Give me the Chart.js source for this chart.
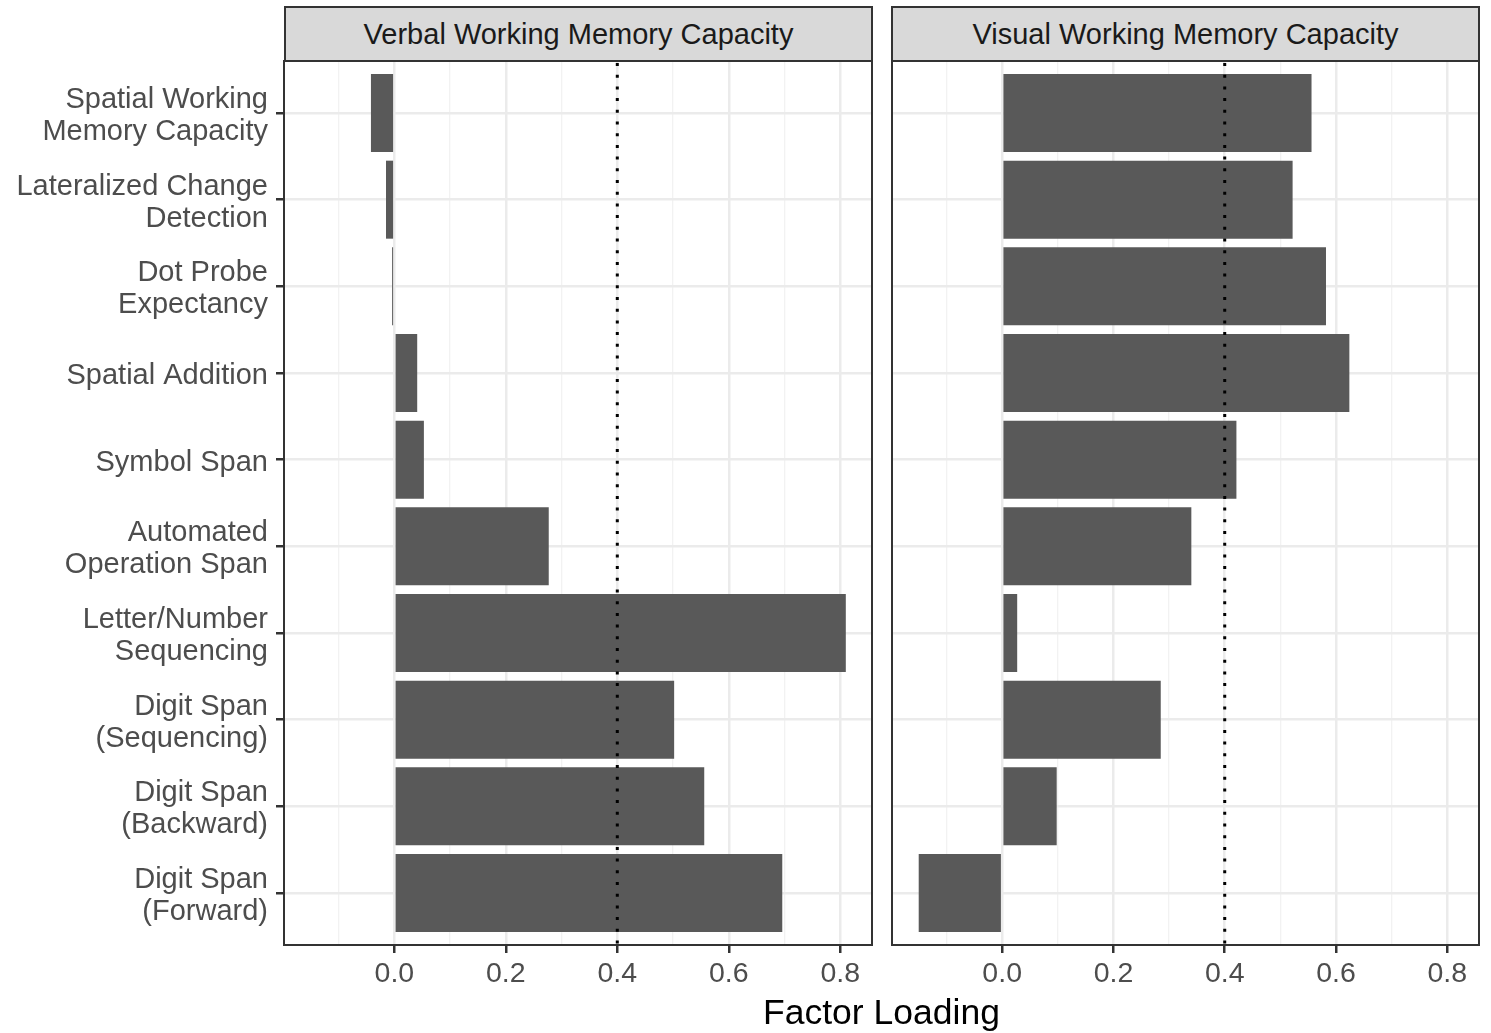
<!DOCTYPE html>
<html lang="en">
<head>
  <meta charset="UTF-8">
  <title>Factor Loadings</title>
  <script src="https://cdn.jsdelivr.net/npm/chart.js"></script>
  <style>
    body {
      margin: 0;
      background: #ffffff;
      font-family: "Liberation Sans", Arial, sans-serif;
    }
    #wrap {
      position: relative;
      width: 1491px;
      height: 1033px;
    }
    canvas {
      position: absolute;
      top: 0;
    }
    .strip {
      position: absolute;
      top: 6px;
      height: 56px;
      box-sizing: border-box;
      background: #D9D9D9;
      border: 2px solid #333333;
      color: #1A1A1A;
      font-size: 29px;
      line-height: 52px;
      text-align: center;
      white-space: nowrap;
    }
    #xtitle {
      position: absolute;
      left: 284px;
      width: 1195px;
      top: 992px;
      text-align: center;
      font-size: 35.5px;
      color: #000000;
    }
  </style>
</head>
<body>
  <div id="wrap">
    <canvas id="leftChart" width="880" height="1033" style="left:0"></canvas>
    <canvas id="rightChart" width="611" height="1033" style="left:880px"></canvas>
    <div class="strip" id="leftStrip" style="left:284px; width:589px"></div>
    <div class="strip" id="rightStrip" style="left:891px; width:589px"></div>
    <div id="xtitle"></div>
  </div>

  <script>
    // panel titles and axis title
    const panelTitles = ['Verbal Working Memory Capacity', 'Visual Working Memory Capacity'];
    const axisTitle = 'Factor Loading';

    // tasks, top to bottom
    const tasks = [
      ['Spatial Working', 'Memory Capacity'],
      ['Lateralized Change', 'Detection'],
      ['Dot Probe', 'Expectancy'],
      ['Spatial Addition'],
      ['Symbol Span'],
      ['Automated', 'Operation Span'],
      ['Letter/Number', 'Sequencing'],
      ['Digit Span', '(Sequencing)'],
      ['Digit Span', '(Backward)'],
      ['Digit Span', '(Forward)']
    ];

    const verbalLoadings = [-0.042, -0.015, -0.004, 0.041, 0.053, 0.277, 0.810, 0.502, 0.556, 0.696];
    const visualLoadings = [0.556, 0.522, 0.582, 0.624, 0.421, 0.340, 0.027, 0.285, 0.098, -0.150];

    const xTicks = [-0.1, 0, 0.1, 0.2, 0.3, 0.4, 0.5, 0.6, 0.7, 0.8];
    const cutoff = 0.4;

    document.getElementById('leftStrip').textContent = panelTitles[0];
    document.getElementById('rightStrip').textContent = panelTitles[1];
    document.getElementById('xtitle').textContent = axisTitle;

    Chart.defaults.font.family = '"Liberation Sans", Arial, sans-serif';

    const isMajor = v => Math.abs(Math.round(v * 10)) % 2 === 0;

    const cutoffLine = {
      id: 'cutoffLine',
      afterDatasetsDraw(chart) {
        const c = chart.ctx, a = chart.chartArea;
        const x = chart.scales.x.getPixelForValue(cutoff);
        c.save();
        c.strokeStyle = '#000000';
        c.lineWidth = 3;
        c.setLineDash([3, 8.7]);
        c.beginPath();
        c.moveTo(x, a.top + 2);
        c.lineTo(x, a.bottom);
        c.stroke();
        c.restore();
      }
    };

    const panelBorder = {
      id: 'panelBorder',
      afterDraw(chart) {
        const c = chart.ctx, a = chart.chartArea;
        c.save();
        c.strokeStyle = '#333333';
        c.lineWidth = 2;
        c.strokeRect(a.left, a.top, a.right - a.left, a.bottom - a.top);
        c.restore();
      }
    };

    function makeChart(id, values, showLabels) {
      const ctx = document.getElementById(id).getContext('2d');
      return new Chart(ctx, {
        type: 'bar',
        data: {
          datasets: [{
            data: values.map((v, i) => ({ x: v, y: i })),
            backgroundColor: '#595959',
            borderWidth: 0,
            barPercentage: 0.9,
            categoryPercentage: 1.0
          }]
        },
        options: {
          indexAxis: 'y',
          responsive: false,
          animation: false,
          layout: {
            padding: showLabels
              ? { top: 61, right: 8, bottom: 38, left: 0 }
              : { top: 61, right: 12, bottom: 38, left: 0 }
          },
          plugins: {
            legend: { display: false },
            tooltip: { enabled: false }
          },
          scales: {
            x: {
              type: 'linear',
              min: -0.198,
              max: 0.857,
              afterBuildTicks: s => { s.ticks = xTicks.map(v => ({ value: v })); },
              afterFit: s => { s.height = 50; },
              ticks: {
                autoSkip: false,
                maxRotation: 0,
                padding: 4,
                color: '#4D4D4D',
                font: { size: 28.5 },
                callback: v => isMajor(v) ? v.toFixed(1) : ''
              },
              grid: {
                color: c => isMajor(c.tick.value) ? '#EBEBEB' : '#F2F2F2',
                lineWidth: c => isMajor(c.tick.value) ? 2.5 : 1.3,
                tickColor: c => isMajor(c.tick.value) ? '#333333' : 'rgba(0,0,0,0)',
                tickLength: 8,
                tickWidth: 2.5
              },
              border: { display: false }
            },
            y: {
              type: 'linear',
              reverse: true,
              offset: false,
              min: -0.6,
              max: 9.6,
              afterBuildTicks: s => { s.ticks = tasks.map((t, i) => ({ value: i })); },
              afterFit: s => { s.width = showLabels ? 284 : 12; },
              ticks: {
                display: showLabels,
                autoSkip: false,
                padding: 8,
                labelOffset: 3,
                color: '#4D4D4D',
                font: { size: 29, lineHeight: 1.1 },
                callback: v => tasks[v]
              },
              grid: {
                offset: false,
                color: '#EBEBEB',
                lineWidth: 2.5,
                drawTicks: showLabels,
                tickColor: '#333333',
                tickLength: 8,
                tickWidth: 2.5
              },
              border: { display: false }
            }
          }
        },
        plugins: [cutoffLine, panelBorder]
      });
    }

    makeChart('leftChart', verbalLoadings, true);
    makeChart('rightChart', visualLoadings, false);
  </script>
</body>
</html>
